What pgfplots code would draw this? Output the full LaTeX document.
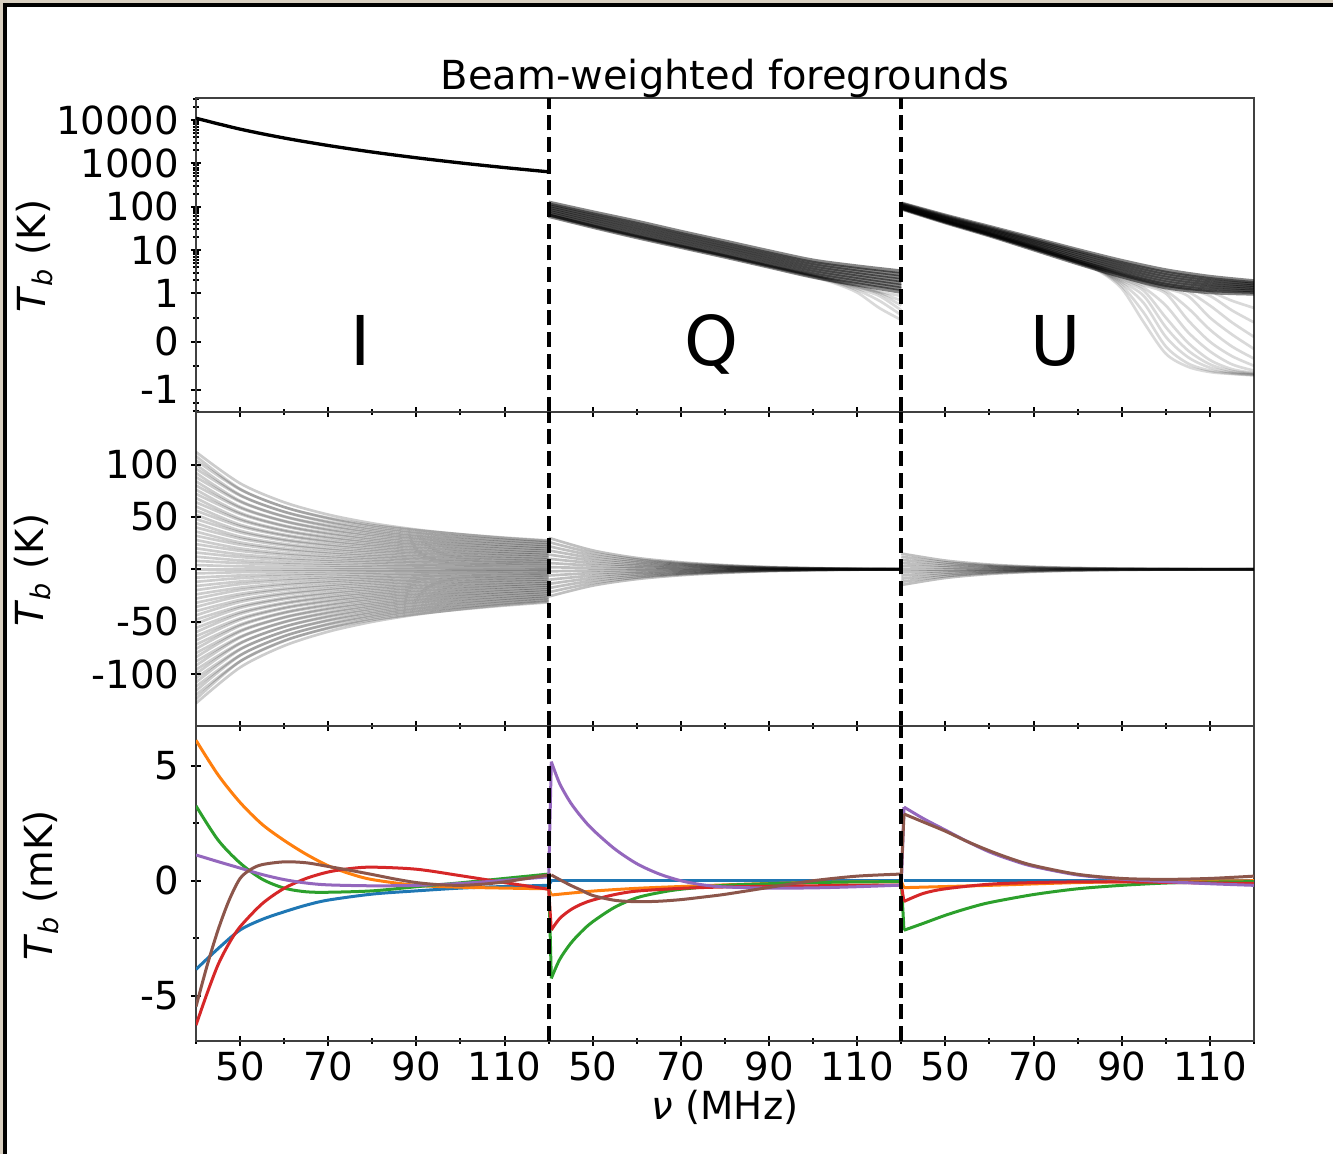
\documentclass[border=0pt]{standalone}
\usepackage{fontspec}
\setmainfont{DejaVu Sans}
\usepackage{pgfplots}
\usepackage{pgfplotstable}
\pgfplotsset{compat=1.18}
\definecolor{tabblue}{HTML}{1F77B4}
\definecolor{taborange}{HTML}{FF7F0E}
\definecolor{tabgreen}{HTML}{2CA02C}
\definecolor{tabred}{HTML}{D62728}
\definecolor{tabpurple}{HTML}{9467BD}
\definecolor{tabbrown}{HTML}{8C564B}
\definecolor{paper}{HTML}{D8CFC0}
\newcommand{\lbl}{\fontsize{11.6}{13}\selectfont}

% top panel, Q: main band and the curves that dip below 1 K
\pgfplotstableread{
nu b1 b2 b3 b4 b5 b6 b7 b8
40 62 68.4 75.5 83.4 92.0 101.6 112.2 124
50 34.7 38.6 43.1 48.0 53.6 59.7 66.5 74.1
60 20 22.4 25.2 28.3 31.8 35.6 40.1 45
70 11.9 13.3 14.9 16.7 18.7 21.0 23.5 26.3
80 7.1 7.9 8.9 10.0 11.2 12.5 14.0 15.7
90 4.17 4.68 5.25 5.89 6.61 7.41 8.32 9.33
100 2.45 2.76 3.12 3.52 3.97 4.48 5.06 5.7
110 1.62 1.86 2.12 2.43 2.78 3.18 3.64 4.17
120 1.10 1.28 1.49 1.74 2.02 2.36 2.75 3.2
}\topQband
\pgfplotstableread{
nu t1 t2 t3 t4 t5 t6
40 63 63.5 64 64.5 65 65.5
50 35 35.3 35.6 35.9 36.2 36.5
60 20.2 20.4 20.6 20.8 21.0 21.2
70 12.0 12.1 12.2 12.3 12.4 12.5
80 7.2 7.25 7.3 7.35 7.4 7.45
90 4.2 4.22 4.25 4.3 4.32 4.35
100 2.4 2.45 2.5 2.55 2.6 2.65
105 1.7 1.8 1.85 1.9 1.95 2.0
110 1.05 1.2 1.3 1.4 1.45 1.5
115 0.7 0.85 0.95 1.0 1.05 1.1
120 0.45 0.55 0.65 0.75 0.85 0.95
}\topQtail
% top panel, U
\pgfplotstableread{
nu b1 b2 b3 b4 b5 b6 b7 b8
40 92.0 95.3 98.9 102.3 106.2 109.9 114.0 118
50 44 46.1 48.5 50.9 53.5 56.1 59.0 62
60 22 23.4 24.9 26.5 28.2 30.0 31.9 34
70 10.5 11.4 12.3 13.4 14.5 15.7 17.1 18.5
80 5.0 5.5 6.1 6.7 7.4 8.2 9.1 10.0
90 2.5 2.8 3.15 3.53 3.96 4.45 4.99 5.6
100 1.4 1.59 1.8 2.05 2.32 2.64 2.99 3.4
110 1.08 1.21 1.36 1.52 1.70 1.91 2.14 2.4
120 1.0 1.1 1.2 1.32 1.44 1.58 1.73 1.9
}\topUband
\pgfplotstableread{
nu d1 d2 d3 d4 d5 d6 d7 d8 d9 d10 d11 d12
40 92 92.2 92.5 92.8 93 93.5 94 94.5 95 95.5 96 96.5
50 44 44.2 44.5 44.8 45 45.5 46 46.5 47 47.5 48 48.5
60 22 22.1 22.2 22.4 22.5 22.8 23 23.3 23.6 23.9 24.2 24.5
70 10.5 10.6 10.7 10.8 10.9 11.1 11.3 11.5 11.7 11.9 12.1 12.3
80 5.0 5.05 5.1 5.15 5.2 5.3 5.4 5.5 5.6 5.7 5.8 5.9
85 3.2 3.3 3.4 3.45 3.5 3.6 3.7 3.8 3.9 4.0 4.1 4.2
90 1.3 1.5 1.7 1.85 2.0 2.15 2.3 2.45 2.6 2.7 2.8 2.9
95 0.4 0.6 0.8 0.95 1.15 1.35 1.55 1.7 1.85 1.95 2.05 2.15
100 -0.25 -0.1 0.1 0.3 0.5 0.75 1.0 1.15 1.3 1.45 1.55 1.65
105 -0.52 -0.45 -0.32 -0.18 -0.02 0.2 0.45 0.7 0.95 1.1 1.25 1.35
110 -0.63 -0.6 -0.54 -0.47 -0.38 -0.2 0.0 0.25 0.5 0.75 0.95 1.1
115 -0.67 -0.66 -0.64 -0.61 -0.57 -0.47 -0.3 -0.1 0.15 0.4 0.65 0.85
120 -0.7 -0.69 -0.68 -0.66 -0.65 -0.6 -0.5 -0.35 -0.15 0.1 0.4 0.7
}\topUdrop

% middle panel, I: residual curves (K)
\pgfplotstableread{
nu c1 c2 c3 c4 c5 c6 c7 c8 c9 c10 c11 c12 c13 c14 c15 c16 c17 c18 c19 c20 c21 c22 c23 c24 c25 c26 c27 c28 c29 c30 c31 c32 c33 c34 c35 c36 c37 c38 c39 c40 c41 c42 c43 c44 c45 c46 c47 c48 c49 c50 c51 c52 c53 c54 c55 c56 c57 c58 c59 c60 c61
40 -128 -120 -112 -104 -96 -88 -80 -72 -64 -56 -48 -40 -32 -24 -16 -8 0 8 16 24 32 40 48 56 64 72 80 88 96 104 112 -124 -116 -108 -100 -92 -84 -76 -68 -60 -52 -44 -36 -28 -20 -12 -4 4 12 20 28 36 44 52 60 68 76 84 92 100 108
50 -93.8 -88.0 -82.1 -76.2 -70.4 -64.5 -58.6 -52.8 -46.9 -41.0 -35.2 -29.3 -23.5 -17.6 -11.7 -5.9 0 5.9 11.7 17.6 23.5 29.3 35.2 41.0 46.9 52.8 58.6 64.5 70.4 76.2 82.1 -88.0 -82.4 -76.7 -71.0 -65.3 -59.6 -54.0 -48.3 -42.6 -36.9 -31.2 -25.6 -19.9 -14.2 -8.5 -2.8 2.8 8.5 14.2 19.9 25.6 31.2 36.9 42.6 48.3 54.0 59.6 65.3 71.0 76.7
60 -73.1 -68.5 -64.0 -59.4 -54.8 -50.2 -45.7 -41.1 -36.5 -32.0 -27.4 -22.8 -18.3 -13.7 -9.1 -4.6 0 4.6 9.1 13.7 18.3 22.8 27.4 32.0 36.5 41.1 45.7 50.2 54.8 59.4 64.0 -68.2 -63.8 -59.4 -55.0 -50.6 -46.2 -41.8 -37.4 -33.0 -28.6 -24.2 -19.8 -15.4 -11.0 -6.6 -2.2 2.2 6.6 11.0 15.4 19.8 24.2 28.6 33.0 37.4 41.8 46.2 50.6 55.0 59.4
70 -59.6 -55.9 -52.2 -48.5 -44.7 -41.0 -37.3 -33.6 -29.8 -26.1 -22.4 -18.6 -14.9 -11.2 -7.5 -3.7 0 3.7 7.5 11.2 14.9 18.6 22.4 26.1 29.8 33.6 37.3 41.0 44.7 48.5 52.2 -56.4 -52.8 -49.1 -45.5 -41.9 -38.2 -34.6 -30.9 -27.3 -23.7 -20.0 -16.4 -12.7 -9.1 -5.5 -1.8 1.8 5.5 9.1 12.7 16.4 20.0 23.7 27.3 30.9 34.6 38.2 41.9 45.5 49.1
80 -50.2 -47.0 -43.9 -40.8 -37.6 -34.5 -31.4 -28.2 -25.1 -22.0 -18.8 -15.7 -12.5 -9.4 -6.3 -3.1 0 3.1 6.3 9.4 12.5 15.7 18.8 22.0 25.1 28.2 31.4 34.5 37.6 40.8 43.9 -48.4 -45.2 -42.1 -39.0 -35.9 -32.8 -29.6 -26.5 -23.4 -20.3 -17.2 -14.0 -10.9 -7.8 -4.7 -1.6 1.6 4.7 7.8 10.9 14.0 17.2 20.3 23.4 26.5 29.6 32.8 35.9 39.0 42.1
90 -43.3 -40.6 -37.9 -35.2 -32.4 -29.7 -27.0 -24.3 -21.6 -18.9 -16.2 -13.5 -10.8 -8.1 -5.4 -2.7 0 2.7 5.4 8.1 10.8 13.5 16.2 18.9 21.6 24.3 27.0 29.7 32.4 35.2 37.9 -42.8 -40.0 -37.3 -34.5 -31.7 -29.0 -26.2 -23.5 -20.7 -17.9 -15.2 -12.4 -9.7 -6.9 -4.1 -1.4 1.4 4.1 6.9 9.7 12.4 15.2 17.9 20.7 23.5 26.2 29.0 31.7 34.5 37.3
100 -38.1 -35.8 -33.4 -31.0 -28.6 -26.2 -23.8 -21.5 -19.1 -16.7 -14.3 -11.9 -9.5 -7.2 -4.8 -2.4 0 2.4 4.8 7.2 9.5 11.9 14.3 16.7 19.1 21.5 23.8 26.2 28.6 31.0 33.4 -38.4 -36.0 -33.5 -31.0 -28.5 -26.0 -23.6 -21.1 -18.6 -16.1 -13.6 -11.2 -8.7 -6.2 -3.7 -1.2 1.2 3.7 6.2 8.7 11.2 13.6 16.1 18.6 21.1 23.6 26.0 28.5 31.0 33.5
110 -34.0 -31.9 -29.8 -27.7 -25.5 -23.4 -21.3 -19.2 -17.0 -14.9 -12.8 -10.6 -8.5 -6.4 -4.3 -2.1 0 2.1 4.3 6.4 8.5 10.6 12.8 14.9 17.0 19.2 21.3 23.4 25.5 27.7 29.8 -34.7 -32.5 -30.2 -28.0 -25.8 -23.5 -21.3 -19.0 -16.8 -14.6 -12.3 -10.1 -7.8 -5.6 -3.4 -1.1 1.1 3.4 5.6 7.8 10.1 12.3 14.6 16.8 19.0 21.3 23.5 25.8 28.0 30.2
120 -30.8 -28.9 -27.0 -25.1 -23.1 -21.2 -19.3 -17.4 -15.4 -13.5 -11.6 -9.6 -7.7 -5.8 -3.9 -1.9 0 1.9 3.9 5.8 7.7 9.6 11.6 13.5 15.4 17.4 19.3 21.2 23.1 25.1 27.0 -31.6 -29.6 -27.5 -25.5 -23.5 -21.4 -19.4 -17.3 -15.3 -13.3 -11.2 -9.2 -7.1 -5.1 -3.1 -1.0 1.0 3.1 5.1 7.1 9.2 11.2 13.3 15.3 17.3 19.4 21.4 23.5 25.5 27.5
}\midI
\pgfplotstableread{
nu q1 q2 q3 q4 q5 q6 q7 q8 q9 q10 q11 q12 q13 q14 q15
40 -26 -22 -18 -14 -10 -6 -2 2 6 10 14 18 22 26 30
50 -15.6 -13.2 -10.8 -8.4 -6.0 -3.6 -1.2 1.2 3.6 6.0 8.4 10.8 13.2 15.6 18.0
60 -9.4 -7.9 -6.5 -5.0 -3.6 -2.2 -0.7 0.7 2.2 3.6 5.0 6.5 7.9 9.4 10.8
70 -5.7 -4.8 -4.0 -3.1 -2.2 -1.3 -0.4 0.4 1.3 2.2 3.1 4.0 4.8 5.7 6.6
80 -3.4 -2.9 -2.3 -1.8 -1.3 -0.8 -0.3 0.3 0.8 1.3 1.8 2.3 2.9 3.4 3.9
90 -1.8 -1.5 -1.3 -1.0 -0.7 -0.4 -0.1 0.1 0.4 0.7 1.0 1.3 1.5 1.8 2.1
100 -0.9 -0.8 -0.6 -0.5 -0.35 -0.2 -0.07 0.07 0.2 0.35 0.5 0.6 0.8 0.9 1.05
110 -0.4 -0.33 -0.27 -0.21 -0.15 -0.09 -0.03 0.03 0.09 0.15 0.21 0.27 0.33 0.4 0.45
120 -0.18 -0.15 -0.13 -0.1 -0.07 -0.04 -0.01 0.01 0.04 0.07 0.1 0.13 0.15 0.18 0.21
}\midQ
\pgfplotstableread{
nu u1 u2 u3 u4 u5 u6 u7 u8 u9 u10 u11
40 -15 -12 -9 -6 -3 0 3 6 9 12 15
50 -8.3 -6.6 -5.0 -3.3 -1.7 0 1.7 3.3 5.0 6.6 8.3
60 -4.5 -3.6 -2.7 -1.8 -0.9 0 0.9 1.8 2.7 3.6 4.5
70 -2.4 -1.9 -1.4 -1.0 -0.5 0 0.5 1.0 1.4 1.9 2.4
80 -1.2 -1.0 -0.7 -0.5 -0.2 0 0.2 0.5 0.7 1.0 1.2
90 -0.6 -0.5 -0.36 -0.24 -0.12 0 0.12 0.24 0.36 0.5 0.6
100 -0.3 -0.24 -0.18 -0.12 -0.06 0 0.06 0.12 0.18 0.24 0.3
110 -0.15 -0.12 -0.09 -0.06 -0.03 0 0.03 0.06 0.09 0.12 0.15
120 -0.08 -0.06 -0.05 -0.03 -0.02 0 0.02 0.03 0.05 0.06 0.08
}\midU

\tikzset{
  split/.style={black, line width=1.2pt, dash pattern=on 4.5pt off 2pt},
  seg/.style={line width=0.9pt, smooth},
  jump/.style={line width=0.9pt},
}
\pgfplotsset{
  panel/.style={
    scale only axis, width=317.4pt, height=94.2pt, anchor=south west,
    xmin=40, xmax=280,
    xtick={50,70,90,110,130,150,170,190,210,230,250,270},
    minor xtick={40,60,80,100,120,140,160,180,200,220,240,260,280},
    xticklabels={},
    tick pos=left, tick align=center,
    major tick length=3pt, minor tick length=1.8pt,
    tick style={black, line width=0.6pt},
    axis line style={black!75, line width=0.55pt},
    tick label style={font=\lbl},
    xticklabel style={yshift=1.8pt},
  },
}

\begin{document}
\begin{tikzpicture}
\path[use as bounding box] (0,0) rectangle (399.9pt,346.2pt);
\fill[paper] (0,0) rectangle (0.9pt,346.2pt);
\fill[paper] (0,345.3pt) rectangle (399.9pt,346.2pt);
\fill[black] (0.9pt,0) rectangle (2.1pt,345.3pt);
\fill[black] (0.9pt,344.1pt) rectangle (399.9pt,345.3pt);

% ---- top: symlog temperatures
\begin{axis}[panel, at={(58.8pt,222.6pt)},
  y coord trafo/.code={\begingroup\pgfkeys{/pgf/fpu=true,/pgf/fpu/output format=fixed}%
    \pgfmathparse{1.111111*max(min(#1,1),-1)+0.4342945*ln(max(#1,1))-0.4342945*ln(max(0-(#1),1))}%
    \pgfmathsmuggle\pgfmathresult\endgroup},
  ymin=-3.24, ymax=32200,
  ytick={-1,0,1,10,100,1000,10000},
  yticklabels={-1,0,1,10,100,1000,10000},
  minor ytick={-3,-2,-0.5,0.5,2,3,4,5,6,7,8,9,20,30,40,50,60,70,80,90,200,300,400,500,600,700,800,900,2000,3000,4000,5000,6000,7000,8000,9000,20000,30000}]
\addplot[black, line width=1pt, smooth] coordinates {
  (40,11000) (50,6170) (60,3850) (70,2585) (80,1826) (90,1347) (100,1025) (110,801) (120,639)};
\pgfplotsinvokeforeach{1,...,8}{
  \addplot[black, opacity=0.48, line width=1.3pt, smooth] table[x expr=\thisrow{nu}+80, y=b#1] {\topQband};}
\pgfplotsinvokeforeach{1,...,6}{
  \addplot[black, opacity=0.15, line width=0.8pt, smooth] table[x expr=\thisrow{nu}+80, y=t#1] {\topQtail};}
\pgfplotsinvokeforeach{1,...,8}{
  \addplot[black, opacity=0.48, line width=1.3pt, smooth] table[x expr=\thisrow{nu}+160, y=b#1] {\topUband};}
\pgfplotsinvokeforeach{1,...,12}{
  \addplot[black, opacity=0.15, line width=0.8pt, smooth] table[x expr=\thisrow{nu}+160, y=d#1] {\topUdrop};}
\draw[split] (rel axis cs:0.3333,0) -- (rel axis cs:0.3333,1);
\draw[split] (rel axis cs:0.6667,0) -- (rel axis cs:0.6667,1);
\node[anchor=base, font=\fontsize{20.6}{22}\selectfont] at (rel axis cs:0.156,0.1465) {I};
\node[anchor=base, font=\fontsize{20.6}{22}\selectfont] at (rel axis cs:0.4868,0.1465) {Q};
\node[anchor=base, font=\fontsize{20.6}{22}\selectfont] at (rel axis cs:0.8129,0.1465) {U};
\end{axis}

% ---- middle: residuals in K
\begin{axis}[panel, at={(58.8pt,128.4pt)},
  ymin=-149.7, ymax=150.2,
  ytick={-100,-50,0,50,100}, yticklabels={-100,-50,0,50,100}]
\pgfplotsinvokeforeach{1,...,61}{
  \addplot[black, opacity=0.2, line width=0.8pt, smooth] table[x=nu, y=c#1] {\midI};}
\pgfplotsinvokeforeach{1,...,15}{
  \addplot[black, opacity=0.25, line width=0.8pt, smooth] table[x expr=\thisrow{nu}+80, y=q#1] {\midQ};}
\pgfplotsinvokeforeach{1,...,11}{
  \addplot[black, opacity=0.25, line width=0.8pt, smooth] table[x expr=\thisrow{nu}+160, y=u#1] {\midU};}
\draw[split] (rel axis cs:0.3333,0) -- (rel axis cs:0.3333,1);
\draw[split] (rel axis cs:0.6667,0) -- (rel axis cs:0.6667,1);
\end{axis}

% ---- bottom: residuals in mK
\begin{axis}[panel, at={(58.8pt,33.9pt)}, height=94.5pt,
  ymin=-6.96, ymax=6.72,
  ytick={-5,0,5}, yticklabels={-5,0,5}, minor ytick={-2.5,2.5},
  xticklabels={50,70,90,110,50,70,90,110,50,70,90,110}]
% blue
\addplot[tabblue, seg] coordinates {(40,-3.85)(45,-2.95)(50,-2.14)(55,-1.68)(60,-1.35)(65,-1.06)(70,-0.84)(80,-0.58)(90,-0.44)(100,-0.32)(110,-0.25)(120,-0.2)};
\addplot[tabblue, seg] coordinates {(120.6,-0.01)(140,-0.01)(160,-0.01)(180,-0.01)(200,-0.01)};
\addplot[tabblue, seg] coordinates {(200.6,0.0)(240,0.0)(280,0.0)};
\addplot[tabblue, jump] coordinates {(120,-0.2)(120.6,-0.01)};
% orange
\addplot[taborange, seg] coordinates {(40,6.1)(45,4.6)(50,3.4)(55,2.45)(60,1.75)(65,1.15)(70,0.65)(75,0.3)(80,0.05)(90,-0.2)(100,-0.28)(110,-0.32)(120,-0.35)};
\addplot[taborange, seg] coordinates {(120.6,-0.62)(130,-0.45)(140,-0.33)(150,-0.25)(160,-0.18)(170,-0.12)(180,-0.08)(190,-0.05)(200,-0.04)};
\addplot[taborange, seg] coordinates {(200.6,-0.3)(220,-0.2)(240,-0.08)(260,-0.02)(280,0)};
\addplot[taborange, jump] coordinates {(120,-0.35)(120.6,-0.62)};
\addplot[taborange, jump] coordinates {(200,-0.04)(200.6,-0.3)};
% green
\addplot[tabgreen, seg] coordinates {(40,3.25)(45,1.77)(50,0.77)(55,0.07)(60,-0.32)(65,-0.48)(70,-0.5)(80,-0.44)(90,-0.26)(100,-0.09)(110,0.1)(120,0.29)};
\addplot[tabgreen, seg] coordinates {(120.6,-4.24)(122.5,-3.42)(125,-2.72)(127.5,-2.2)(130,-1.78)(135,-1.15)(140,-0.74)(145,-0.52)(150,-0.37)(160,-0.2)(170,-0.13)(180,-0.08)(190,-0.05)(200,-0.04)};
\addplot[tabgreen, seg] coordinates {(200.6,-2.15)(205,-1.85)(210,-1.5)(215,-1.2)(220,-0.95)(230,-0.6)(240,-0.35)(250,-0.2)(260,-0.1)(270,-0.06)(280,-0.04)};
\addplot[tabgreen, jump] coordinates {(120,0.29)(120.6,-4.24)};
\addplot[tabgreen, jump] coordinates {(200,-0.04)(200.6,-2.15)};
% red
\addplot[tabred, seg] coordinates {(40,-6.27)(42.5,-4.9)(45,-3.65)(47.5,-2.72)(50,-2.0)(55,-1.0)(60,-0.33)(65,0.1)(70,0.38)(75,0.53)(80,0.59)(90,0.5)(100,0.22)(110,-0.08)(120,-0.37)};
\addplot[tabred, seg] coordinates {(120.6,-2.14)(122.5,-1.64)(125,-1.26)(127.5,-1.01)(130,-0.84)(135,-0.6)(140,-0.45)(150,-0.33)(160,-0.27)(170,-0.24)(180,-0.22)(190,-0.2)(200,-0.19)};
\addplot[tabred, seg] coordinates {(200.6,-0.9)(205,-0.55)(210,-0.35)(220,-0.15)(230,-0.08)(240,-0.05)(250,-0.05)(260,-0.07)(270,-0.1)(280,-0.12)};
\addplot[tabred, jump] coordinates {(120,-0.37)(120.6,-2.14)};
\addplot[tabred, jump] coordinates {(200,-0.19)(200.6,-0.9)};
% purple
\addplot[tabpurple, seg] coordinates {(40,1.12)(45,0.83)(50,0.55)(55,0.27)(60,0.05)(65,-0.1)(70,-0.18)(80,-0.22)(90,-0.2)(100,-0.12)(110,0.02)(120,0.17)};
\addplot[tabpurple, seg] coordinates {(120.6,5.17)(122.5,4.22)(125,3.38)(127.5,2.75)(130,2.22)(135,1.38)(140,0.74)(145,0.3)(150,0.0)(155,-0.18)(160,-0.27)(170,-0.32)(180,-0.31)(190,-0.26)(200,-0.19)};
\addplot[tabpurple, seg] coordinates {(200.6,3.2)(205,2.7)(210,2.2)(215,1.7)(220,1.25)(225,0.9)(230,0.62)(240,0.25)(250,0.07)(260,-0.04)(270,-0.13)(280,-0.2)};
\addplot[tabpurple, jump] coordinates {(120,0.17)(120.6,5.17)};
\addplot[tabpurple, jump] coordinates {(200,-0.19)(200.6,3.2)};
% brown
\addplot[tabbrown, seg] coordinates {(40,-5.47)(42.5,-3.7)(45,-2.14)(47.5,-0.85)(50,0.1)(52.5,0.5)(55,0.7)(60,0.82)(65,0.78)(70,0.62)(75,0.45)(80,0.27)(85,0.08)(90,-0.08)(95,-0.17)(100,-0.2)(105,-0.15)(110,-0.05)(115,0.1)(120,0.25)};
\addplot[tabbrown, seg] coordinates {(120.6,0.25)(122.5,0.05)(125,-0.2)(127.5,-0.42)(130,-0.64)(135,-0.85)(140,-0.91)(145,-0.89)(150,-0.82)(155,-0.71)(160,-0.59)(170,-0.29)(180,0.0)(190,0.2)(200,0.29)};
\addplot[tabbrown, seg] coordinates {(200.6,2.9)(205,2.55)(210,2.15)(215,1.7)(220,1.3)(225,0.95)(230,0.66)(240,0.28)(250,0.1)(260,0.06)(270,0.1)(280,0.2)};
\addplot[tabbrown, jump] coordinates {(120,0.25)(120.6,0.25)};
\addplot[tabbrown, jump] coordinates {(200,0.29)(200.6,2.9)};
\draw[split] (rel axis cs:0.3333,0) -- (rel axis cs:0.3333,1);
\draw[split] (rel axis cs:0.6667,0) -- (rel axis cs:0.6667,1);
\end{axis}

\node[anchor=base, font=\fontsize{12}{14}\selectfont] at (217.5pt,319.2pt) {Beam-weighted foregrounds};
\node[anchor=base, font=\lbl] at (217.5pt,10.2pt) {\textit{ν} (MHz)};
\node[rotate=90, font=\lbl] at (10.35pt,269.4pt) {\textit{T}\textsubscript{\textit{b}} (K)};
\node[rotate=90, font=\lbl] at (9.75pt,175.2pt) {\textit{T}\textsubscript{\textit{b}} (K)};
\node[rotate=90, font=\lbl] at (12.3pt,80.5pt) {\textit{T}\textsubscript{\textit{b}} (mK)};
\end{tikzpicture}
\end{document}
